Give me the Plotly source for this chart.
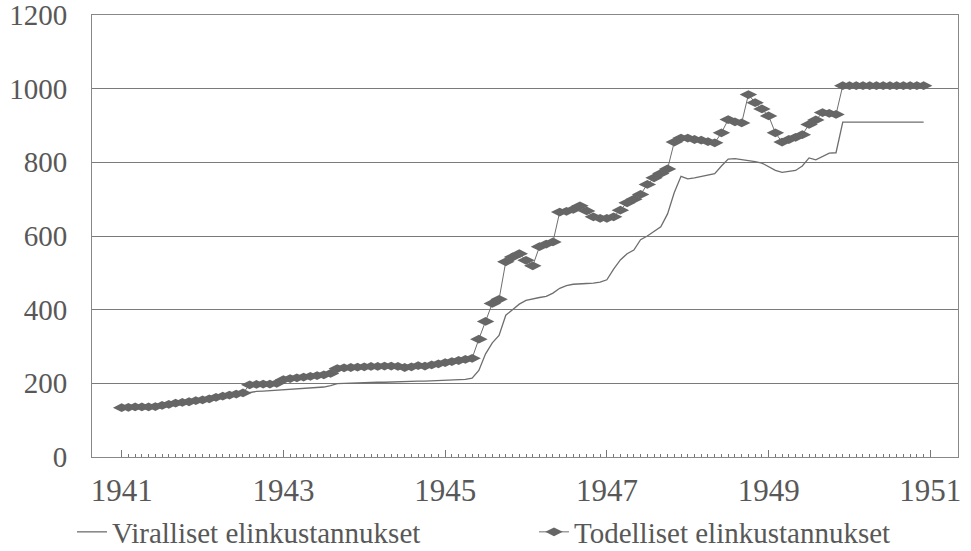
import plotly.graph_objects as go

# ---- data (monthly, Jan 1941 .. Dec 1950) ----
official = [132, 133, 134, 134, 134, 135, 138, 141, 144, 146, 148, 151,
            153, 156, 160, 163, 166, 169, 172, 176, 178, 179, 180, 182,
            183, 184, 185, 186, 187, 188, 190, 194, 199, 200, 201, 201,
            202, 202, 203, 203, 204, 204, 205, 205, 206, 206, 207, 207,
            208, 209, 210, 211, 214, 235, 280, 310, 330, 385, 400, 415,
            425, 430, 433, 436, 445, 458, 465, 469, 471, 471, 472, 475,
            481, 510, 535, 552, 562, 590, 600, 612, 625, 660, 718, 762,
            755, 758, 762, 765, 769, 790, 809, 810, 808, 806, 802, 798,
            788, 778, 773, 775, 778, 790, 812, 807, 815, 825, 826, 909,
            909, 909, 909, 909, 909, 909, 909, 909, 909, 909, 909, 909]

actual = [134, 135, 136, 136, 136, 137, 140, 143, 146, 148, 150, 153,
          155, 158, 162, 165, 168, 171, 174, 196, 197, 198, 198, 200,
          210, 213, 215, 217, 219, 221, 223, 227, 240, 242, 243, 244,
          245, 246, 246, 247, 247, 246, 243, 245, 248, 247, 250, 253,
          256, 259, 262, 265, 268, 320, 368, 417, 428, 530, 543, 552,
          534, 519, 571, 578, 584, 665, 667, 672, 682, 668, 652, 648,
          648, 652, 670, 690, 700, 713, 740, 758, 770, 782, 855, 866,
          866, 862, 860, 856, 853, 880, 916, 910, 907, 984, 962, 945,
          926, 880, 855, 862, 868, 875, 903, 915, 935, 933, 930, 1008,
          1008, 1008, 1008, 1008, 1008, 1008, 1008, 1008, 1008, 1008, 1008, 1008]

year_labels = ["1941", "1943", "1945", "1947", "1949", "1951"]
series_names = ["Viralliset elinkustannukset", "Todelliset elinkustannukset"]
y_ticks = [0, 200, 400, 600, 800, 1000, 1200]

months = list(range(len(actual)))
year_pos = [i * 24 for i in range(len(year_labels))]
minor_pos = list(range(0, len(actual) + 1))

FONT = "Liberation Serif"
TXT = "#585858"
GRAY = "#666666"

W, H = 971, 551

fig = go.Figure()
fig.add_trace(go.Scatter(
    x=months, y=official, mode="lines", name=series_names[0],
    line=dict(color="#6e6e6e", width=1.3), legend="legend",
))
fig.add_trace(go.Scatter(
    x=months, y=actual, mode="lines+markers", name=series_names[1],
    line=dict(color="#6e6e6e", width=1),
    marker=dict(symbol="diamond-wide", size=12.5, color=GRAY,
                line=dict(width=0)),
    legend="legend2",
))

leg_common = dict(
    orientation="h", xref="container", xanchor="left",
    yref="container", yanchor="middle", y=1 - 532 / H,
    font=dict(family=FONT, size=29, color=TXT),
    itemwidth=30, bgcolor="rgba(0,0,0,0)",
)

fig.update_layout(
    width=W, height=H,
    margin=dict(l=92, r=13, t=15, b=94, autoexpand=False),
    paper_bgcolor="white", plot_bgcolor="white",
    font=dict(family=FONT, color=TXT, size=28),
    showlegend=True,
    legend=dict(x=72 / W, **leg_common),
    legend2=dict(x=534 / W, **leg_common),
    xaxis=dict(
        range=[-4.4, 124.1], tickmode="array", tickvals=year_pos,
        ticktext=year_labels, ticks="inside", ticklen=7, tickwidth=1,
        tickcolor="#777", showgrid=False, zeroline=False,
        showline=True, mirror=True, linecolor="#888", linewidth=1,
        tickfont=dict(family=FONT, size=31, color=TXT),
        ticklabelstandoff=6, automargin=False,
        minor=dict(tickmode="array", tickvals=minor_pos, ticks="inside",
                   ticklen=3, tickcolor="#777", showgrid=False),
    ),
    yaxis=dict(
        range=[0, 1200], tickmode="array", tickvals=y_ticks,
        ticks="", showgrid=True, gridcolor="#7a7a7a", gridwidth=1,
        zeroline=False, showline=True, mirror=True, linecolor="#888",
        linewidth=1, tickfont=dict(family=FONT, size=29, color=TXT),
        ticklabelstandoff=18, automargin=False, ticklabeloverflow="allow",
    ),
)

fig.write_html(
    "out.html",
    config={"displayModeBar": False},
    post_script="document.body.style.margin='0';",
)
